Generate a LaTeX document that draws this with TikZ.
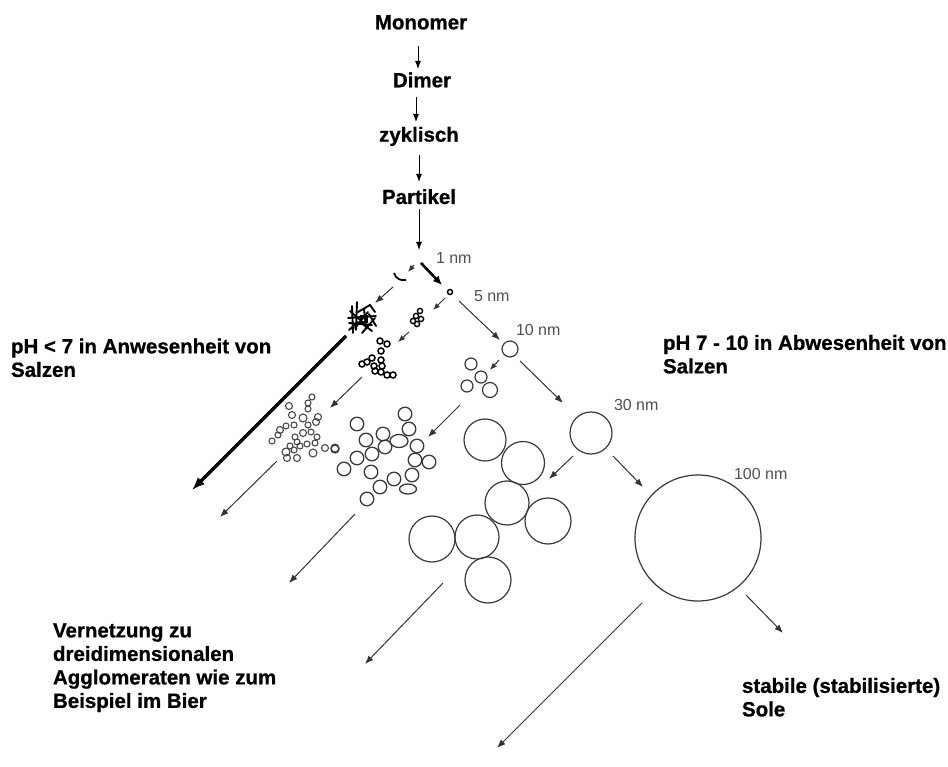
\documentclass[tikz,border=0pt]{standalone}
\usepackage{fontspec}
\setmainfont[BoldFeatures={FakeBold=0.8}]{Liberation Sans}
\usetikzlibrary{arrows.meta}
\definecolor{linegray}{HTML}{333333}
\definecolor{sizegray}{HTML}{505050}
\definecolor{midgray}{HTML}{4A4A4A}
\definecolor{darkgray}{HTML}{3A3A3A}

\begin{document}
\begin{tikzpicture}[x=1pt,y=-1pt,
  every node/.style={inner sep=0pt, outer sep=0pt},
  headlabel/.style={font=\fontsize{20.5}{23.5}\selectfont\bfseries, align=left},
  sizelabel/.style={font=\fontsize{16}{18}\selectfont, text=sizegray},
  arr/.style={draw=linegray, line width=1pt, -{Latex[length=8.5pt,width=6.5pt]}},
  smallarr/.style={draw=linegray, line width=1pt, -{Latex[length=7pt,width=5.5pt]}},
  toparr/.style={draw=black, line width=1pt, -{Latex[length=8pt,width=6pt]}},
  boldarr/.style={draw=black, line width=2.6pt, -{Latex[length=9pt,width=8pt]}},
  thickarr/.style={draw=black, line width=3.2pt, -{Latex[length=13pt,width=10pt]}},
  dot/.style={draw=black, line width=1.6pt},
  grain/.style={draw=midgray, line width=1.1pt},
  bead/.style={draw=darkgray, line width=1.3pt},
  ball/.style={draw=darkgray, line width=1.2pt},
]
\fill[white] (0,0) rectangle (948,767);
\useasboundingbox (0,0) rectangle (948,767);

% ---- reaction chain at the top ----
\node[headlabel, anchor=base] (mono) at (421,29.3) {Monomer};
\node[headlabel, anchor=base] (dimer) at (422,87.3) {Dimer};
\node[headlabel, anchor=base] (cyc) at (419,141.7) {zyklisch};
\node[headlabel, anchor=base] (part) at (419,204) {Partikel};

\coordinate (a1s) at (418,46);  \coordinate (a1e) at (418,69);
\coordinate (a2s) at (416,97);  \coordinate (a2e) at (416,122);
\coordinate (a3s) at (419,155); \coordinate (a3e) at (419,182);
\coordinate (a4s) at (419,209); \coordinate (a4e) at (419,250);
\draw[toparr] (a1s) -- (a1e);
\draw[toparr] (a2s) -- (a2e);
\draw[toparr] (a3s) -- (a3e);
\draw[toparr] (a4s) -- (a4e);

% ---- size labels ----
\node[sizelabel, anchor=base west] (s1) at (436,264) {1 nm};
\node[sizelabel, anchor=base west] (s5) at (474,301.5) {5 nm};
\node[sizelabel, anchor=base west] (s10) at (516,336) {10 nm};
\node[sizelabel, anchor=base west] (s30) at (614,410.5) {30 nm};
\node[sizelabel, anchor=base west] (s100) at (734,479) {100 nm};

% ---- condition labels ----
\node[headlabel, anchor=north west] (acid) at (11,338.5) {pH < 7 in Anwesenheit von\\Salzen};
\node[headlabel, anchor=north west] (base) at (663,335) {pH 7 - 10 in Abwesenheit von\\Salzen};
\node[headlabel, anchor=north west] (net) at (53,623.3) {Vernetzung zu\\dreidimensionalen\\Agglomeraten wie zum\\Beispiel im Bier};
\node[headlabel, anchor=north west] (sol) at (742,678) {stabile (stabilisierte)\\Sole};

% ---- first steps: 1 nm ----
\coordinate (b1s) at (421,263); \coordinate (b1e) at (442,285);
\draw[boldarr] (b1s) -- (b1e);
\draw[dot, line width=1.5pt] (450,292) circle[radius=2.5];

\coordinate (c1s) at (414,265); \coordinate (c1e) at (408,272);
\draw[smallarr] (c1s) -- (c1e);
% bent dimer fragment
\draw[black, line width=1.8pt] (394,273) .. controls (396,279) and (401,281) .. (406,280);

\coordinate (c2s) at (393,287); \coordinate (c2e) at (375,303);
\draw[arr] (c2s) -- (c2e);

% tangled network
\begin{scope}[black, line width=1.9pt, line cap=round]
\draw (352,306) -- (353,333);
\draw (357,302) -- (356,330);
\draw (348,318) -- (376,316);
\draw (349,323) -- (372,325);
\draw (358,312) -- (370,305);
\draw (355,328) -- (368,312);
\draw (362,333) -- (375,318);
\draw (364,309) -- (366,328);
\draw (369,314) -- (376,326);
\draw (350,311) -- (360,320);
\draw (360,322) -- (372,331);
\draw (370,305) -- (375,312);
\draw (349,330) -- (358,322);
\draw (361,316) rectangle (367,322);
\end{scope}

\coordinate (t1s) at (346,336); \coordinate (t1e) at (192,490);
\draw[thickarr] (t1s) -- (t1e);

% ---- 5 nm aggregates ----
\coordinate (d1s) at (445,298); \coordinate (d1e) at (433,310);
\draw[smallarr] (d1s) -- (d1e);
\foreach \x/\y in {420/311, 416/316, 421/319, 413/321, 417/324}
  \draw[dot, line width=1.4pt] (\x,\y) circle[radius=2.6];

\coordinate (d2s) at (409,332); \coordinate (d2e) at (398,342);
\draw[smallarr] (d2s) -- (d2e);
\foreach \x/\y in {380/341, 387/344, 381/351, 372/358, 381/360, 367/362, 362/364,
                   374/366, 382/366, 375/371, 381/372, 387/375, 393/375}
  \draw[dot, line width=1.5pt] (\x,\y) circle[radius=3];

\coordinate (d3s) at (362,377); \coordinate (d3e) at (330,408);
\draw[arr] (d3s) -- (d3e);
\foreach \x/\y/\r in {312/397/3, 308/403/3, 289/406/3.5, 308/409/3, 292/415/3.5, 303/418/4,
                      318/417/3.5, 280/430/3.5, 286/426/3, 308/425/3, 316/422/3.5, 294/425/3,
                      303/433/3.5, 311/432/3, 317/437/3, 295/437/3, 297/442/3, 278/435/3,
                      272/441/3, 307/444/3, 315/443/3, 325/448/3.5, 335/448/4, 286/452/4,
                      294/450/3, 313/453/4, 287/458/3.5, 297/458/3.5, 290/446/3, 300/446/3}
  \draw[grain] (\x,\y) circle[radius=\r];

\coordinate (d4s) at (277,461); \coordinate (d4e) at (220,517);
\draw[arr] (d4s) -- (d4e);

% ---- 10 nm particles ----
\coordinate (e1s) at (459,301); \coordinate (e1e) at (500,340);
\draw[arr] (e1s) -- (e1e);
\node[circle, draw=darkgray, line width=1.2pt, minimum size=16pt] (p10) at (510,349) {};

\coordinate (e2s) at (499,360); \coordinate (e2e) at (490,370);
\draw[smallarr] (e2s) -- (e2e);
\foreach \x/\y/\r in {471/364/6, 481/377/6, 467/386/6, 490/390/7.5}
  \draw[ball] (\x,\y) circle[radius=\r];

\coordinate (e3s) at (460,405); \coordinate (e3e) at (428,437);
\draw[arr] (e3s) -- (e3e);
\foreach \x/\y in {357/424, 366/440, 383/434, 405/414, 409/429, 417/446, 372/454,
                   385/447, 357/458, 415/460, 429/462, 344/469, 371/472, 412/475,
                   394/479, 380/487, 367/499}
  \draw[bead] (\x,\y) circle[radius=6.8];
\draw[bead] (399,441) ellipse[x radius=9, y radius=6.5];
\draw[bead] (408,489) ellipse[x radius=8.5, y radius=5];
\draw[bead] (335,449) circle[radius=4];

\coordinate (e4s) at (355,514); \coordinate (e4e) at (289,583);
\draw[arr] (e4s) -- (e4e);

% ---- 30 nm particles ----
\coordinate (f1s) at (520,361); \coordinate (f1e) at (563,403);
\draw[arr] (f1s) -- (f1e);
\node[circle, draw=darkgray, line width=1.2pt, minimum size=42pt] (p30) at (591,433) {};

\coordinate (f2s) at (573,456); \coordinate (f2e) at (549,479);
\draw[arr] (f2s) -- (f2e);
\foreach \x/\y/\r in {485/440/21, 523/463/21.5, 507/503/22, 548/521/23,
                      432/539/23, 477/537/22, 488/580/23}
  \draw[ball] (\x,\y) circle[radius=\r];

\coordinate (f3s) at (443,583); \coordinate (f3e) at (365,664);
\draw[arr] (f3s) -- (f3e);

% ---- 100 nm sol ----
\coordinate (g1s) at (613,456); \coordinate (g1e) at (643,487);
\draw[arr] (g1s) -- (g1e);
\node[circle, draw=darkgray, line width=1.2pt, minimum size=126pt] (p100) at (698,538) {};

\coordinate (g2s) at (746,595); \coordinate (g2e) at (783,633);
\draw[arr] (g2s) -- (g2e);
\coordinate (g3s) at (642,603); \coordinate (g3e) at (497,748);
\draw[arr] (g3s) -- (g3e);

\end{tikzpicture}
\end{document}
